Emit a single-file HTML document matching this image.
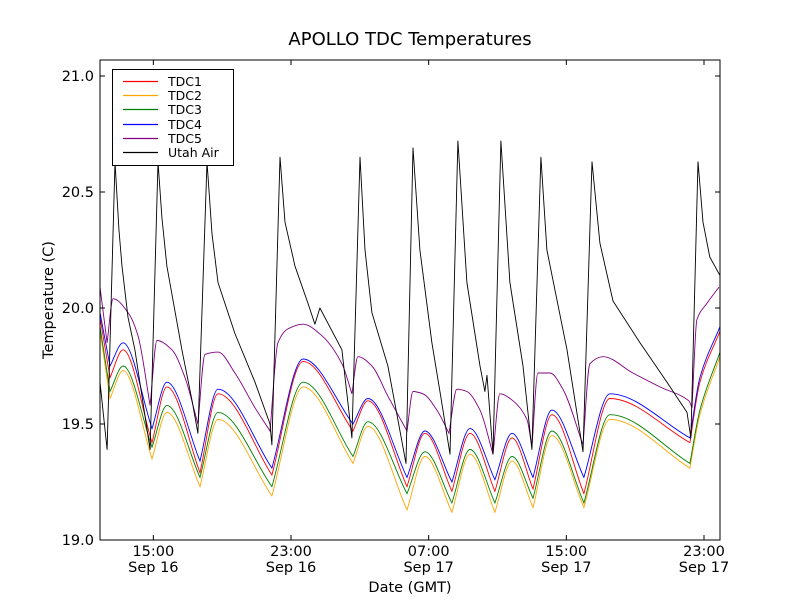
<!DOCTYPE html>
<html><head><meta charset="utf-8">
<style>
html,body{margin:0;padding:0;background:#fff;}
svg{display:block;font-family:"DejaVu Sans","Liberation Sans",sans-serif;}
</style></head>
<body>
<svg id="chart" width="800" height="600" viewBox="0 0 800 600">
<rect width="800" height="600" fill="#fff"/>
<text x="410" y="45" text-anchor="middle" font-size="18">APOLLO TDC Temperatures</text>
<text x="410" y="592" text-anchor="middle" font-size="14.5">Date (GMT)</text>
<text x="53" y="300" text-anchor="middle" font-size="14.5" transform="rotate(-90 53 300)">Temperature (C)</text>
<g id="series"></g>
<g id="axes"></g>
<g id="legend">
<rect x="112.5" y="69.5" width="121" height="96" fill="#fff" stroke="#000" stroke-width="1"/>
<line x1="123" y1="81.5" x2="158" y2="81.5" stroke="#ff0000" stroke-width="1.2"/>
<line x1="123" y1="95.5" x2="158" y2="95.5" stroke="#ffa500" stroke-width="1.2"/>
<line x1="123" y1="109.5" x2="158" y2="109.5" stroke="#008000" stroke-width="1.2"/>
<line x1="123" y1="124.5" x2="158" y2="124.5" stroke="#0000ff" stroke-width="1.2"/>
<line x1="123" y1="138.5" x2="158" y2="138.5" stroke="#800080" stroke-width="1.2"/>
<line x1="123" y1="152.5" x2="158" y2="152.5" stroke="#000000" stroke-width="1.2"/>
<text x="168" y="86" font-size="12.5">TDC1</text>
<text x="168" y="100" font-size="12.5">TDC2</text>
<text x="168" y="114" font-size="12.5">TDC3</text>
<text x="168" y="129" font-size="12.5">TDC4</text>
<text x="168" y="143" font-size="12.5">TDC5</text>
<text x="168" y="157" font-size="12.5">Utah Air</text>
</g>
</svg>
<script>
// Time in hours since Sep 16 00:00 GMT
const tdcTimes = [11.9,12.48,13.24,14.92,15.79,17.71,18.76,21.89,23.7,26.6,27.47,29.74,30.78,32.35,33.4,34.85,35.84,37.06,38.16,40.02,41.53,46.18,46.76,47.93];
const tdc1 = [19.96,19.70,19.82,19.42,19.66,19.29,19.63,19.28,19.77,19.47,19.60,19.23,19.46,19.21,19.46,19.21,19.44,19.22,19.54,19.20,19.61,19.42,19.68,19.90];
const tdc2 = [19.90,19.61,19.73,19.35,19.55,19.23,19.52,19.19,19.66,19.33,19.49,19.13,19.36,19.12,19.37,19.12,19.34,19.14,19.45,19.14,19.52,19.31,19.54,19.79];
const tdc3 = [19.92,19.64,19.75,19.40,19.58,19.27,19.55,19.23,19.68,19.36,19.51,19.20,19.38,19.16,19.39,19.16,19.36,19.18,19.47,19.16,19.54,19.33,19.56,19.81];
const tdc4 = [19.98,19.75,19.85,19.48,19.68,19.34,19.65,19.31,19.78,19.50,19.61,19.27,19.47,19.25,19.48,19.26,19.46,19.27,19.56,19.27,19.63,19.44,19.70,19.92];
const tdc5Times = [11.9,12.31,12.66,13.53,14.11,14.81,15.21,16.08,16.84,17.59,18.0,18.76,19.74,20.91,21.78,22.24,22.82,23.7,24.8,25.96,26.54,26.89,27.7,28.63,29.74,30.09,30.67,31.48,32.18,32.64,33.22,33.98,34.74,35.14,35.9,36.71,37.0,37.35,38.05,38.8,39.97,40.37,41.13,42.87,44.44,46.12,46.3,46.59,47.17,47.87];
const tdc5 = [20.09,19.85,20.04,19.98,19.88,19.58,19.86,19.82,19.70,19.50,19.80,19.81,19.72,19.57,19.47,19.85,19.91,19.93,19.88,19.76,19.63,19.79,19.75,19.62,19.47,19.64,19.63,19.56,19.46,19.65,19.64,19.56,19.37,19.63,19.60,19.52,19.40,19.72,19.72,19.65,19.41,19.76,19.79,19.72,19.66,19.60,19.57,19.95,20.02,20.09];
const airTimes = [11.9,12.31,12.77,13.0,13.18,13.53,13.93,14.81,15.27,15.5,15.79,16.66,17.25,17.59,18.12,18.41,18.76,19.74,20.91,21.78,21.89,22.36,22.65,23.23,23.99,24.39,24.68,25.96,26.54,27.01,27.3,27.7,28.63,29.68,30.09,30.49,31.19,31.7,32.24,32.7,33.22,33.98,34.27,34.39,34.74,35.2,35.72,36.48,37.0,37.52,37.87,39.04,39.97,40.49,40.95,41.71,43.28,44.85,46.01,46.24,46.65,46.94,47.34,47.93];
const airValues = [19.68,19.39,20.63,20.34,20.18,19.96,19.82,19.39,20.63,20.39,20.18,19.82,19.60,19.46,20.63,20.32,20.11,19.89,19.68,19.50,19.41,20.65,20.37,20.18,20.02,19.93,20.00,19.82,19.44,20.65,20.25,19.98,19.75,19.33,20.69,20.25,19.85,19.62,19.37,20.72,20.11,19.75,19.64,19.71,19.37,20.72,20.11,19.75,19.39,20.65,20.25,19.82,19.38,20.63,20.28,20.03,19.85,19.68,19.55,19.44,20.63,20.37,20.22,20.14];
const yTicks = [19.0,19.5,20.0,20.5,21.0];
const yTickLabels = ["19.0","19.5","20.0","20.5","21.0"];
const xTicks = [15,23,31,39,47];
const xTickLabels = [["15:00","Sep 16"],["23:00","Sep 16"],["07:00","Sep 17"],["15:00","Sep 17"],["23:00","Sep 17"]];
const seriesColors = ["#ff0000","#ffa500","#008000","#0000ff","#800080","#000000"];

const NS = "http://www.w3.org/2000/svg";
const L=100,R=720,T=60,B=540;
const xMin=11.9, xMax=47.93, yMin=19.0, yMax=19+480/232;
function xs(h){return L+(h-xMin)/(xMax-xMin)*(R-L);}
function ys(v){return B-(v-yMin)/(yMax-yMin)*(B-T);}
function el(tag,attrs,parent){const e=document.createElementNS(NS,tag);for(const k in attrs)e.setAttribute(k,attrs[k]);parent.appendChild(e);return e;}

function shapePath(px,py){
  const n=px.length,d=[],mi=[],mo=[];
  for(let i=0;i<n-1;i++)d.push((py[i+1]-py[i])/(px[i+1]-px[i]));
  mi[0]=mo[0]=d[0];mi[n-1]=mo[n-1]=d[n-2];
  for(let i=1;i<n-1;i++){
    if(d[i-1]<0&&d[i]>0){mi[i]=mo[i]=0;}
    else if(d[i-1]>0&&d[i]<0){mi[i]=d[i-1];mo[i]=d[i];}
    else {const m=(d[i-1]*d[i]<=0)?0:2/(1/d[i-1]+1/d[i]);mi[i]=mo[i]=m;}
  }
  let s="M"+px[0].toFixed(1)+","+py[0].toFixed(1);
  for(let i=0;i<n-1;i++){
    const h=(px[i+1]-px[i])/3;
    s+=" C"+(px[i]+h).toFixed(1)+","+(py[i]+mo[i]*h).toFixed(1)+" "+(px[i+1]-h).toFixed(1)+","+(py[i+1]-mi[i+1]*h).toFixed(1)+" "+px[i+1].toFixed(1)+","+py[i+1].toFixed(1);
  }
  return s;
}

const sg=document.getElementById('series');
const clip=el('clipPath',{id:'plotclip'},document.getElementById('chart'));
el('rect',{x:L,y:T,width:R-L,height:B-T},clip);
sg.setAttribute('clip-path','url(#plotclip)');
const defs=[
 {t:tdcTimes,v:tdc1,c:seriesColors[0],n:"tdc1-line",smooth:true},
 {t:tdcTimes,v:tdc2,c:seriesColors[1],n:"tdc2-line",smooth:true},
 {t:tdcTimes,v:tdc3,c:seriesColors[2],n:"tdc3-line",smooth:true},
 {t:tdcTimes,v:tdc4,c:seriesColors[3],n:"tdc4-line",smooth:true},
 {t:tdc5Times,v:tdc5,c:seriesColors[4],n:"tdc5-line",smooth:true},
 {t:airTimes,v:airValues,c:seriesColors[5],n:"utah-air-line",smooth:false}
];
defs.forEach(d=>{
  const px=d.t.map(xs), py=d.v.map(ys);
  let p;
  if(d.smooth){
    p=el('path',{d:shapePath(px,py),fill:'none',stroke:d.c,'stroke-width':0.9},sg);
  } else {
    const pts=px.map((x,i)=>x.toFixed(1)+","+py[i].toFixed(1)).join(" ");
    p=el('polyline',{points:pts,fill:'none',stroke:d.c,'stroke-width':0.9,'stroke-linejoin':'round'},sg);
  }
  
  
});

const ag=document.getElementById('axes');
const frame=el('rect',{x:L,y:T,width:R-L,height:B-T,fill:'none',stroke:'#000','stroke-width':1},ag);


yTicks.forEach((v,i)=>{
  const y=ys(v);
  el('line',{x1:L,y1:y,x2:L+5,y2:y,stroke:'#000'},ag);
  el('line',{x1:R,y1:y,x2:R-5,y2:y,stroke:'#000'},ag);
  const t=el('text',{x:L-6,y:y+5,'text-anchor':'end','font-size':14.5},ag);
  t.textContent=yTickLabels[i];
  
  
});
xTicks.forEach((h,i)=>{
  const x=xs(h);
  el('line',{x1:x,y1:B,x2:x,y2:B-5,stroke:'#000'},ag);
  el('line',{x1:x,y1:T,x2:x,y2:T+5,stroke:'#000'},ag);
  const t1=el('text',{x:x,y:556,'text-anchor':'middle','font-size':14.5},ag);
  t1.textContent=xTickLabels[i][0];
  
  
  const t2=el('text',{x:x,y:572,'text-anchor':'middle','font-size':14.5},ag);
  t2.textContent=xTickLabels[i][1];
  
  
});
</script>
</body></html>
